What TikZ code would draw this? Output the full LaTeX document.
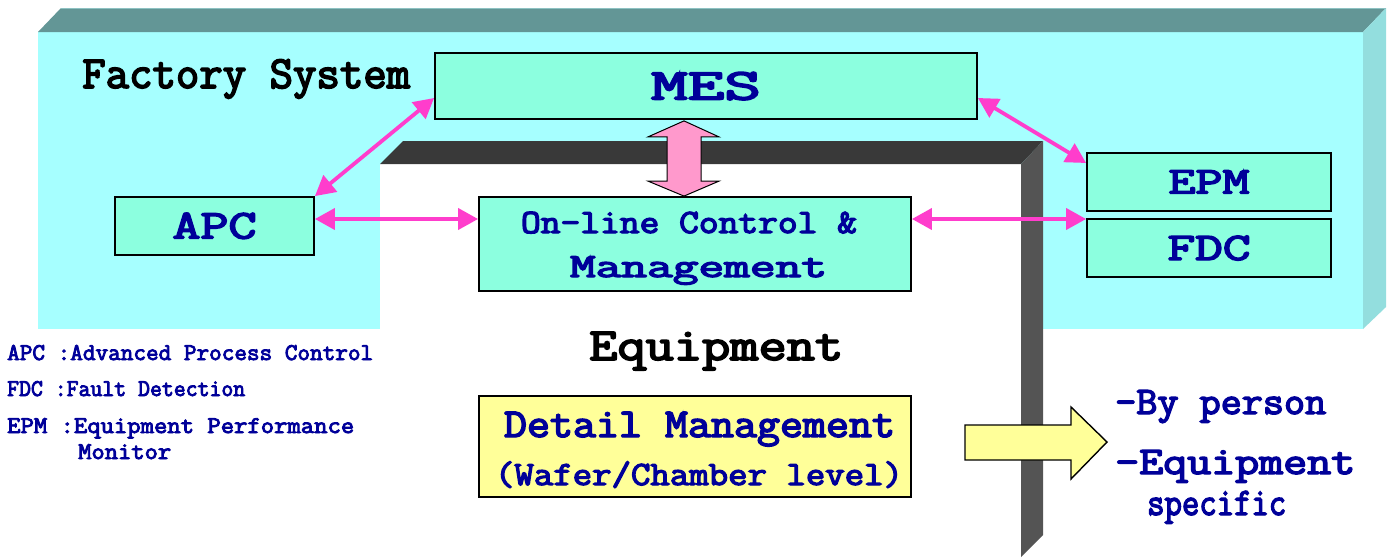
\documentclass[tikz,border=0pt]{standalone}
\usepackage{graphicx}
\usepackage{fontspec}
\usetikzlibrary{arrows.meta,calc}

% heavy typewriter face for all labels
\newfontfamily\courfont{Latin Modern Mono}[FakeBold=3.6]

\definecolor{navy}{HTML}{000099}
\definecolor{fsfront}{HTML}{A6FFFF}
\definecolor{fstop}{HTML}{639696}
\definecolor{fsside}{HTML}{93DEDE}
\definecolor{eqtop}{HTML}{393939}
\definecolor{eqside}{HTML}{545454}
\definecolor{mint}{HTML}{8CFFDF}
\definecolor{lemon}{HTML}{FFFF99}
\definecolor{linkpink}{HTML}{FF3DCC}
\definecolor{blockpink}{HTML}{FF99CC}

% stretch or squeeze a line horizontally to a given width
\newcommand\fitto[2]{\resizebox{#1}{\height}{#2}}
\newcommand\cour[1]{\fontsize{#1}{#1}\selectfont\courfont\bfseries}

\begin{document}
\begin{tikzpicture}[x=1pt,y=-1pt,
  box/.style={draw=black, line width=1.8pt, fill=mint, inner sep=0pt,
              text=navy, text depth=0pt},
  txt/.style={inner sep=0pt, text=navy},
  link/.style={draw=linkpink, line width=3.8pt,
               {Triangle[length=20pt,width=21pt]}-{Triangle[length=20pt,width=21pt]}},
  dblock/.style={draw=black, line width=1pt, fill=blockpink, line join=miter},
  fatarrow/.style={draw=black, line width=1.4pt, fill=lemon, line join=miter}]

\useasboundingbox (0,0) rectangle (1394,557);

% factory system slab
\fill[fsfront] (38,32) rectangle (1363,329);
\fill[fstop] (38,32) -- (61,8) -- (1386,8) -- (1363,32) -- cycle;
\fill[fsside] (1363,32) -- (1386,8) -- (1386,307) -- (1363,329) -- cycle;
\draw[fsside!70!gray, line width=0.6pt] (61,8) -- (1386,8);

% equipment frame
\fill[white] (380,164) rectangle (1021,557);
\fill[eqtop] (380,164) -- (403,141) -- (1043,141) -- (1021,164) -- cycle;
\fill[eqside] (1021,164) -- (1043,141) -- (1043,535) -- (1021,557) -- cycle;

% titles
\node[inner sep=0pt, anchor=base west] (fstitle) at (82,88)
  {\cour{46}\fitto{328pt}{Factory System}};
\node[inner sep=0pt, anchor=base west] (eqtitle) at (589,360)
  {\cour{46}\fitto{254pt}{Equipment}};

% system boxes
\node[box, minimum width=542pt, minimum height=66pt, text height=27pt] (mes) at (706,86)
  {\cour{44}\fitto{110pt}{MES}};
\node[box, minimum width=199pt, minimum height=58pt, text height=25pt] (apc) at (214.5,226)
  {\cour{41}\fitto{84pt}{APC}};
\node[box, minimum width=244pt, minimum height=58pt, text height=23pt] (epm) at (1209,182)
  {\cour{38}\fitto{81pt}{EPM}};
\node[box, minimum width=244pt, minimum height=58pt, text height=24pt] (fdc) at (1209,248)
  {\cour{39}\fitto{83pt}{FDC}};
\node[box, minimum width=432pt, minimum height=94pt] (ocm) at (695,244) {};
\node[txt, anchor=base] (ocm-a) at (689,233) {\cour{34}\fitto{336pt}{On-line Control \&}};
\node[txt, anchor=base] (ocm-b) at (698.5,277) {\cour{34}\fitto{257pt}{Management}};

\node[box, fill=lemon, minimum width=432pt, minimum height=101pt] (det) at (695,446.5) {};
\node[txt, anchor=base] (det-a) at (699.5,437) {\cour{41}\fitto{391pt}{Detail Management}};
\node[txt, anchor=base] (det-b) at (699,485) {\cour{34}\fitto{408pt}{(Wafer/Chamber level)}};

% information links
\draw[link] (apc.north east) -- ([yshift=-12pt]mes.west);
\draw[link] ([yshift=7pt]apc.east) -- ([yshift=7pt]apc.east -| ocm.west);
\draw[link] ([yshift=-12pt]mes.east) -- ([yshift=19pt]epm.west);
\draw[link] ([yshift=25pt]ocm.east) -- ([yshift=25pt]ocm.east -| fdc.west);

% two-way block arrow between MES and on-line control
\coordinate (bt) at ([xshift=-22pt,yshift=-1pt]mes.south);
\coordinate (bb) at (bt |- ocm.north);
\path[dblock] (bt) -- ($(bt)+(35,16)$) -- ($(bt)+(17,16)$) -- ($(bb)+(17,-15)$)
  -- ($(bb)+(35,-15)$) -- (bb) -- ($(bb)+(-36,-15)$) -- ($(bb)+(-17,-15)$)
  -- ($(bt)+(-17,16)$) -- ($(bt)+(-36,16)$) -- cycle;

% outcome arrow
\path[fatarrow] (965,425) -- (1071,425) -- (1071,407) -- (1107,442) -- (1071,479)
  -- (1071,460) -- (965,460) -- cycle;

\node[txt, anchor=base west] (by) at (1115,414) {\cour{39}\fitto{211pt}{\textendash By person}};
\node[txt, anchor=base west] (eqs) at (1115,474) {\cour{39}\fitto{240pt}{\textendash Equipment}};
\node[txt, anchor=base west] (spec) at (1147,515) {\cour{39}\fitto{139pt}{specific}};

% abbreviations
\node[txt, anchor=base west] (lg-apc) at (7,360) {\cour{24}\fitto{366pt}{APC :Advanced Process Control}};
\node[txt, anchor=base west] (lg-fdc) at (7,396) {\cour{24}\fitto{238pt}{FDC :Fault Detection}};
\node[txt, anchor=base west] (lg-epm) at (7,433) {\cour{24}\fitto{347pt}{EPM :Equipment Performance}};
\node[txt, anchor=base west] (lg-mon) at (78,459) {\cour{24}\fitto{93pt}{Monitor}};

\end{tikzpicture}
\end{document}
